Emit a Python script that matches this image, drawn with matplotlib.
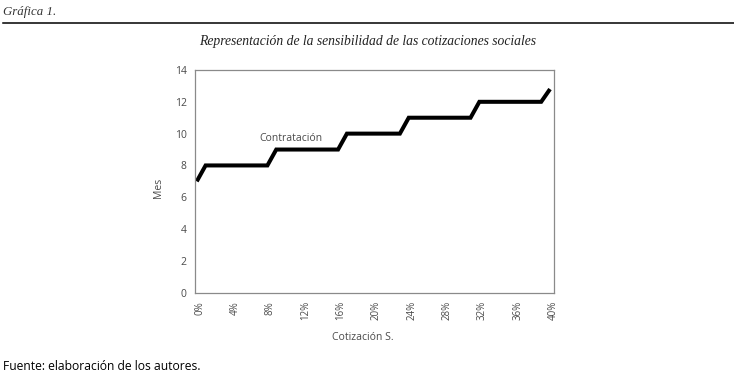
import matplotlib
matplotlib.use("Agg")
import matplotlib.pyplot as plt
import matplotlib.transforms as mtransforms

# Data
cotizacion = list(range(0, 41))  # percent
mes = ([7] + [8] * 8 + [9] * 8 + [10] * 7 + [11] * 8 + [12] * 8 + [12.8])
x_ticks = list(range(0, 41, 4))
x_ticklabels = [f"{v}%" for v in x_ticks]
y_ticks = list(range(0, 15, 2))

SANS = ["Open Sans", "DejaVu Sans"]
SERIF = ["Liberation Serif", "DejaVu Serif"]

fig = plt.figure(figsize=(7.34, 3.75), dpi=100)
fig.patch.set_facecolor("white")

ax = fig.add_axes([195 / 734, 1 - 292.7 / 375, (554 - 195) / 734, (292.7 - 70) / 375])
ax.plot(cotizacion, mes, color="black", lw=2.9, solid_joinstyle="miter", solid_capstyle="butt")
ax.set_xlim(-0.2, 40.45)
ax.set_ylim(0, 14)
ax.set_yticks(y_ticks)
ax.set_xticks(x_ticks)
ax.set_xticklabels(x_ticklabels, rotation=90, fontsize=7, family=SANS, color="#4a4a4a")
ax.set_yticklabels([str(v) for v in y_ticks], fontsize=7.5, family=SANS, color="#4a4a4a")
ax.tick_params(axis="both", length=0)
ax.tick_params(axis="y", pad=6)
ax.tick_params(axis="x", pad=6)
offset = mtransforms.ScaledTranslation(3 / 100, 0, fig.dpi_scale_trans)
for lab in ax.get_xticklabels():
    lab.set_transform(lab.get_transform() + offset)
for s in ax.spines.values():
    s.set_color("#8a8a8a")
    s.set_linewidth(0.9)

ax.text(10.7, 9.7, "Contratación", fontsize=7.5, family=SANS, color="#4a4a4a",
        ha="center", va="center")

fig.text(159 / 734, 1 - 188 / 375, "Mes", rotation=90, fontsize=7.5, family=SANS,
         color="#4a4a4a", ha="center", va="center")
fig.text(363 / 734, 1 - 337 / 375, "Cotización S.", fontsize=7.5, family=SANS,
         color="#4a4a4a", ha="center", va="center")

fig.text(3 / 734, 1 - 12 / 375, "Gráfica 1.", fontsize=9.3, family=SERIF, style="italic",
         color="#333333", ha="left", va="center")
fig.add_artist(plt.Line2D([3 / 734, 1], [1 - 23.3 / 375, 1 - 23.3 / 375], color="black", lw=1.1,
                          transform=fig.transFigure))
fig.text(368 / 734, 1 - 42 / 375, "Representación de la sensibilidad de las cotizaciones sociales",
         fontsize=9.8, family=SERIF, style="italic", color="#222222", ha="center", va="center")
fig.text(3 / 734, 1 - 366 / 375, "Fuente: elaboración de los autores.", fontsize=8.7,
         family=SANS, color="black", ha="left", va="center")

fig.savefig("out.png", dpi=100, facecolor="white")
